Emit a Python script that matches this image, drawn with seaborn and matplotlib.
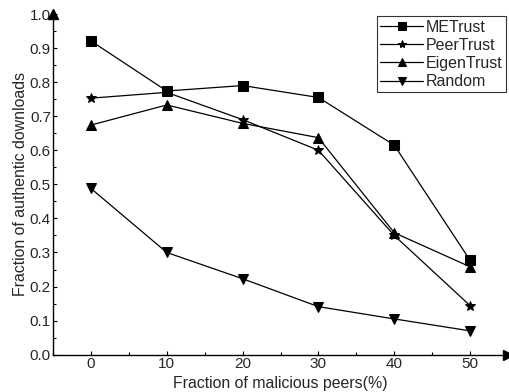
import pandas as pd
import matplotlib
matplotlib.use('Agg')
import matplotlib.pyplot as plt
import seaborn as sns
from matplotlib.ticker import MultipleLocator

# Data
malicious = [0, 10, 20, 30, 40, 50]
metrust = [0.921, 0.774, 0.790, 0.755, 0.615, 0.277]
peertrust = [0.753, 0.770, 0.690, 0.600, 0.350, 0.144]
eigentrust = [0.674, 0.733, 0.679, 0.637, 0.358, 0.258]
random_sel = [0.488, 0.300, 0.223, 0.141, 0.105, 0.070]
methods = ['METrust', 'PeerTrust', 'EigenTrust', 'Random']

rows = []
for name, vals in zip(methods, [metrust, peertrust, eigentrust, random_sel]):
    for x, v in zip(malicious, vals):
        rows.append({'malicious': x, 'auth': v, 'method': name})
df = pd.DataFrame(rows)

sns.set_style('ticks')
plt.rcParams['font.family'] = ['Liberation Sans', 'DejaVu Sans']

fig = plt.figure(figsize=(5.1, 3.92), dpi=100)
ax = fig.add_axes([53 / 510, 1 - 354.7 / 392, (508 - 53) / 510, (354.7 - 14) / 392])

sns.lineplot(data=df, x='malicious', y='auth', style='method', style_order=methods,
             markers=['s', '*', '^', 'v'], dashes=False, color='k', linewidth=0.9,
             markersize=7, markeredgecolor='k', ax=ax)

ax.set_xlim(-5, 55)
ax.set_ylim(0, 1.0)
ax.xaxis.set_major_locator(MultipleLocator(10))
ax.xaxis.set_minor_locator(MultipleLocator(5))
ax.yaxis.set_major_locator(MultipleLocator(0.1))
ax.yaxis.set_minor_locator(MultipleLocator(0.05))
ax.yaxis.set_major_formatter(matplotlib.ticker.FormatStrFormatter('%.1f'))
ax.tick_params(which='both', direction='in', color='k', labelsize=11, pad=1.5)
ax.tick_params(which='major', length=3, width=0.8)
ax.tick_params(which='minor', length=2, width=0.8)

for s in ['top', 'right']:
    ax.spines[s].set_visible(False)
for s in ['left', 'bottom']:
    ax.spines[s].set_color('k')
    ax.spines[s].set_linewidth(1.0)

# axis arrows
ax.plot(0, 1, marker='^', color='k', markersize=7, transform=ax.transAxes, clip_on=False)
ax.plot(1, 0, marker='>', color='k', markersize=7, transform=ax.transAxes, clip_on=False)

ax.set_xlabel('Fraction of malicious peers(%)', fontsize=11.4, labelpad=4)
ax.set_ylabel('Fraction of authentic downloads', fontsize=11.4, labelpad=1)

leg = ax.legend(loc='upper right', bbox_to_anchor=(1.0, 1.0), frameon=True, fancybox=False,
                edgecolor='k', fontsize=11.5, handlelength=2.7, handletextpad=0.15,
                borderpad=0.2, labelspacing=0.2, borderaxespad=0.15)
leg.get_frame().set_linewidth(0.8)
for h in leg.legend_handles:
    h.set_markersize(6)

fig.savefig('out.png', dpi=100)
